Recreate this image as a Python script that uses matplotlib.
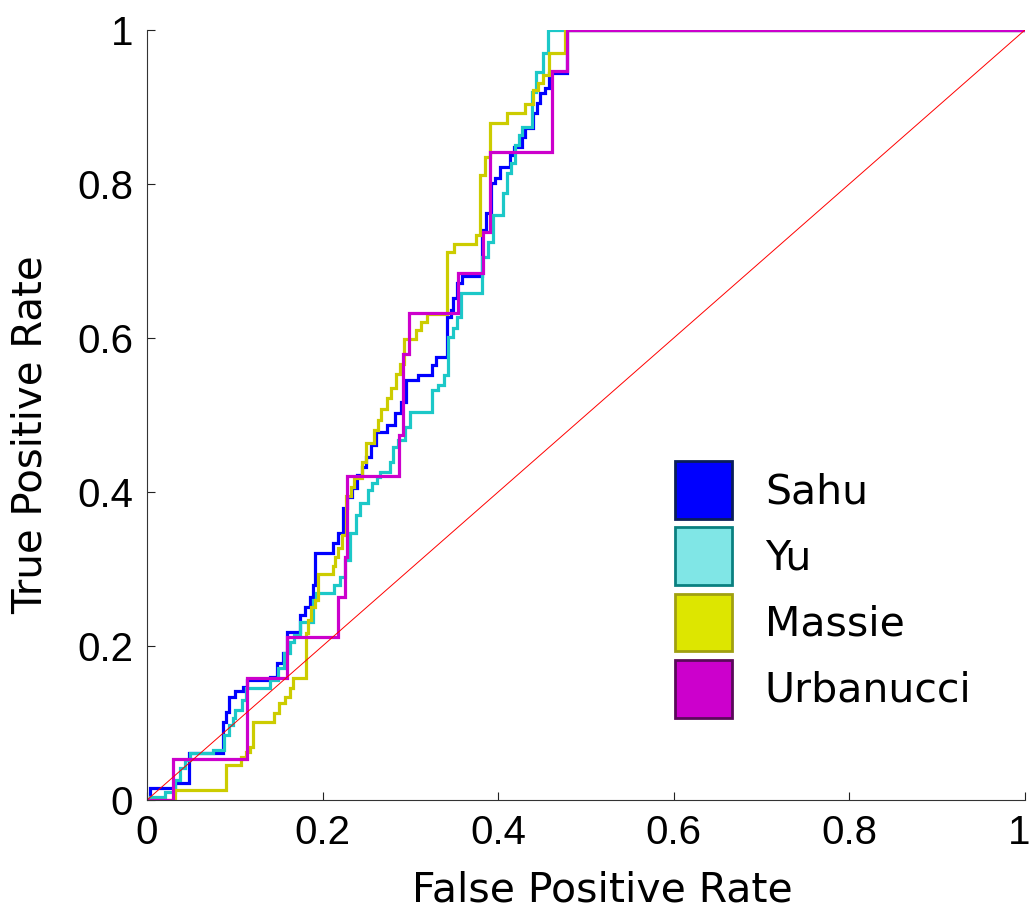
import matplotlib
matplotlib.use("Agg")
import matplotlib.pyplot as plt
import matplotlib.transforms as mtransforms
from matplotlib.patches import Patch

# ROC curves: x = false positive rate where the curve
# steps up, y = true positive rate it steps up to
sahu_fpr = [0, 0.003, 0.032, 0.048, 0.087, 0.090, 0.093, 0.100, 0.109, 0.114,
            0.140, 0.148, 0.155, 0.159, 0.174, 0.180, 0.186, 0.189, 0.191, 0.212,
            0.218, 0.223, 0.228, 0.233, 0.239, 0.245, 0.249, 0.255, 0.261, 0.273,
            0.282, 0.289, 0.295, 0.309, 0.325, 0.329, 0.342, 0.346, 0.349, 0.353,
            0.359, 0.382, 0.386, 0.392, 0.396, 0.402, 0.413, 0.418, 0.427, 0.431,
            0.440, 0.444, 0.448, 0.453, 0.458, 0.478, 1.0]
sahu_tpr = [0, 0.016, 0.022, 0.061, 0.101, 0.114, 0.134, 0.142, 0.147, 0.156,
            0.160, 0.178, 0.191, 0.218, 0.240, 0.251, 0.264, 0.279, 0.321, 0.334,
            0.347, 0.379, 0.394, 0.405, 0.422, 0.432, 0.445, 0.461, 0.478, 0.487,
            0.503, 0.517, 0.545, 0.552, 0.565, 0.575, 0.627, 0.636, 0.652, 0.671,
            0.681, 0.740, 0.762, 0.801, 0.808, 0.822, 0.838, 0.848, 0.861, 0.873,
            0.892, 0.905, 0.918, 0.925, 0.944, 1.0, 1.0]

yu_fpr = [0, 0.003, 0.021, 0.032, 0.038, 0.043, 0.049, 0.075, 0.088, 0.093,
          0.098, 0.100, 0.108, 0.113, 0.140, 0.149, 0.156, 0.163, 0.167, 0.174,
          0.189, 0.192, 0.213, 0.220, 0.226, 0.231, 0.238, 0.243, 0.252, 0.256,
          0.262, 0.265, 0.277, 0.280, 0.286, 0.294, 0.300, 0.325, 0.331, 0.338,
          0.343, 0.349, 0.353, 0.358, 0.382, 0.388, 0.394, 0.405, 0.410, 0.415,
          0.419, 0.424, 0.427, 0.438, 0.443, 0.451, 0.457, 1.0]
yu_tpr = [0, 0.004, 0.010, 0.026, 0.042, 0.052, 0.061, 0.065, 0.084, 0.097,
          0.106, 0.117, 0.130, 0.145, 0.156, 0.171, 0.191, 0.205, 0.214, 0.231,
          0.260, 0.269, 0.279, 0.290, 0.312, 0.347, 0.370, 0.386, 0.403, 0.412,
          0.419, 0.426, 0.439, 0.458, 0.468, 0.484, 0.504, 0.532, 0.539, 0.552,
          0.601, 0.613, 0.627, 0.658, 0.705, 0.725, 0.760, 0.788, 0.814, 0.827,
          0.851, 0.864, 0.874, 0.919, 0.945, 0.970, 1.0, 1.0]

massie_fpr = [0, 0.032, 0.090, 0.107, 0.113, 0.117, 0.121, 0.145, 0.150, 0.157,
              0.163, 0.166, 0.181, 0.183, 0.187, 0.191, 0.195, 0.212, 0.214, 0.218,
              0.222, 0.227, 0.232, 0.236, 0.245, 0.249, 0.259, 0.263, 0.267, 0.273,
              0.278, 0.284, 0.288, 0.293, 0.306, 0.312, 0.319, 0.342, 0.350, 0.375,
              0.379, 0.385, 0.391, 0.410, 0.431, 0.440, 0.445, 0.451, 0.458, 0.476,
              1.0]
massie_tpr = [0, 0.013, 0.045, 0.056, 0.062, 0.069, 0.101, 0.113, 0.126, 0.134,
              0.145, 0.158, 0.217, 0.234, 0.251, 0.260, 0.294, 0.304, 0.316, 0.327,
              0.344, 0.395, 0.406, 0.418, 0.439, 0.464, 0.481, 0.494, 0.508, 0.522,
              0.535, 0.553, 0.566, 0.599, 0.610, 0.621, 0.631, 0.712, 0.722, 0.734,
              0.812, 0.835, 0.879, 0.892, 0.904, 0.922, 0.931, 0.942, 0.970, 1.0,
              1.0]

urbanucci_fpr = [0, 0.030, 0.114, 0.159, 0.218, 0.226, 0.228, 0.287, 0.292,
                 0.298, 0.354, 0.383, 0.391, 0.461, 0.478, 1.0]
urbanucci_tpr = [0, 0.053, 0.158, 0.211, 0.263, 0.316, 0.421, 0.474, 0.579,
                 0.632, 0.684, 0.737, 0.842, 0.947, 1.0, 1.0]

names = ["Sahu", "Yu", "Massie", "Urbanucci"]
line_colors = ["#0000ff", "#1cc8c8", "#cccc00", "#cc00cc"]
patch_faces = ["#0000ff", "#80e6e6", "#dde600", "#cc00cc"]
patch_edges = ["#0a1e5a", "#0a8080", "#a0a010", "#5a0a5a"]
ticks = [0, 0.2, 0.4, 0.6, 0.8, 1]
tick_labels = ["0", "0.2", "0.4", "0.6", "0.8", "1"]

curves = [(sahu_fpr, sahu_tpr), (yu_fpr, yu_tpr),
          (massie_fpr, massie_tpr), (urbanucci_fpr, urbanucci_tpr)]

fig = plt.figure(figsize=(10.3, 9.13), dpi=100)
ax = fig.add_axes([0.1427, 0.1238, 0.8524, 0.8434])

for (fpr, tpr), col in zip(curves, line_colors):
    ax.plot(fpr, tpr, drawstyle="steps-post", color=col, lw=2.3,
            solid_joinstyle="miter")

# chance line
ax.plot([0, 1], [0, 1], color="red", lw=0.7)

ax.set_xlim(0, 1)
ax.set_ylim(0, 1)
ax.set_xticks(ticks)
ax.set_yticks(ticks)
ax.set_xticklabels(tick_labels, fontsize=29, family="Liberation Sans")
ax.set_yticklabels(tick_labels, fontsize=29, family="Liberation Sans")
ax.tick_params(direction="in", length=6, width=0.8, colors="#222222",
               labelcolor="black", pad=10)
ax.spines["top"].set_visible(False)
ax.spines["right"].set_visible(False)
for s in ("left", "bottom"):
    ax.spines[s].set_color("#333333")
    ax.spines[s].set_linewidth(0.8)

# last x label sits on the figure edge, nudge it in a little
last = ax.get_xticklabels()[-1]
last.set_transform(last.get_transform() +
                   mtransforms.ScaledTranslation(-6 / 100, 0, fig.dpi_scale_trans))

ax.set_xlabel("False Positive Rate", fontsize=29.5)
ax.xaxis.set_label_coords(0.519, -0.091)
ax.set_ylabel("True Positive Rate", fontsize=29)
ax.yaxis.set_label_coords(-0.11, 0.474)

handles = [Patch(facecolor=f, edgecolor=e, linewidth=2)
           for f, e in zip(patch_faces, patch_edges)]
ax.legend(handles, names, loc="upper left", bbox_to_anchor=(0.601, 0.44),
          frameon=False, fontsize=29.5, handlelength=1.4, handleheight=1.8,
          handletextpad=0.8, labelspacing=0.2, borderpad=0, borderaxespad=0)

fig.savefig("out.png", dpi=100)
